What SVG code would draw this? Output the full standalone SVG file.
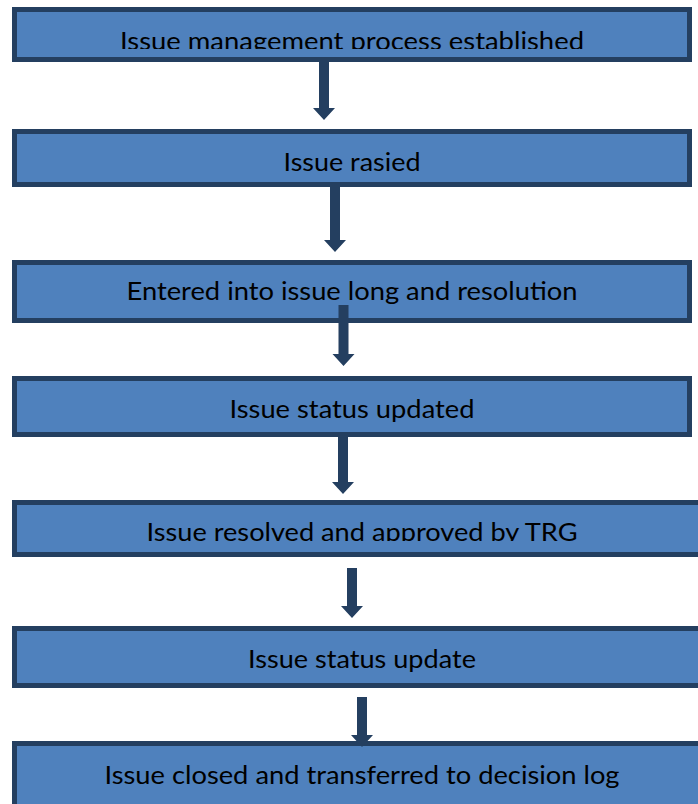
<svg xmlns="http://www.w3.org/2000/svg" width="698" height="804" viewBox="0 0 698 804">
<style>
.box{fill:#4f81bd;stroke:#243f60;stroke-width:5}
.lbl{font-family:Lato,"Open Sans","Liberation Sans",sans-serif;font-size:25px;fill:#000;text-anchor:middle}
.arr{fill:#243f60}
</style>
<defs>
<clipPath id="c1"><rect x="0" y="0" width="698" height="49"/></clipPath>
<clipPath id="c5"><rect x="0" y="480" width="698" height="61"/></clipPath>
</defs>
<rect width="698" height="804" fill="#fff"/>
<g id="n1"><rect class="box" x="14.5" y="9.5" width="675" height="50"/><text class="lbl" x="352" y="50" textLength="464" lengthAdjust="spacingAndGlyphs" clip-path="url(#c1)">Issue management process established</text></g>
<g id="n2"><rect class="box" x="14.5" y="131.5" width="675" height="53"/><text class="lbl" x="352" y="171" textLength="137" lengthAdjust="spacingAndGlyphs">Issue rasied</text></g>
<g id="n3"><rect class="box" x="14.5" y="262.5" width="675" height="58"/><text class="lbl" x="352" y="300" textLength="451" lengthAdjust="spacingAndGlyphs">Entered into issue long and resolution</text></g>
<g id="n4"><rect class="box" x="14.5" y="378.5" width="675" height="56"/><text class="lbl" x="352" y="418" textLength="245" lengthAdjust="spacingAndGlyphs">Issue status updated</text></g>
<g id="n5"><rect class="box" x="14.5" y="502.5" width="710" height="52"/><text class="lbl" x="362" y="541" textLength="431" lengthAdjust="spacingAndGlyphs" clip-path="url(#c5)">Issue resolved and approved by TRG</text></g>
<g id="n6"><rect class="box" x="14.5" y="628.5" width="710" height="57"/><text class="lbl" x="362" y="668" textLength="228" lengthAdjust="spacingAndGlyphs">Issue status update</text></g>
<g id="n7"><rect class="box" x="14.5" y="743.5" width="710" height="100"/><text class="lbl" x="362" y="784" textLength="515" lengthAdjust="spacingAndGlyphs">Issue closed and transferred to decision log</text></g>
<g id="connectors">
<polygon class="arr" points="319,57 329,57 329,108 335,108 324,120 313,108 319,108"/>
<polygon class="arr" points="330,184 340,184 340,240 346,240 335,252 324,240 330,240"/>
<polygon class="arr" points="338.5,305 348.5,305 348.5,354 354.5,354 343.5,366 332.5,354 338.5,354"/>
<polygon class="arr" points="338,436 348,436 348,482 354,482 343,494 332,482 338,482"/>
<polygon class="arr" points="347,568 357,568 357,606 363,606 352,618 341,606 347,606"/>
<polygon class="arr" points="357,697 367,697 367,735 373,735 362,747 351,735 357,735"/>
</g>
</svg>
